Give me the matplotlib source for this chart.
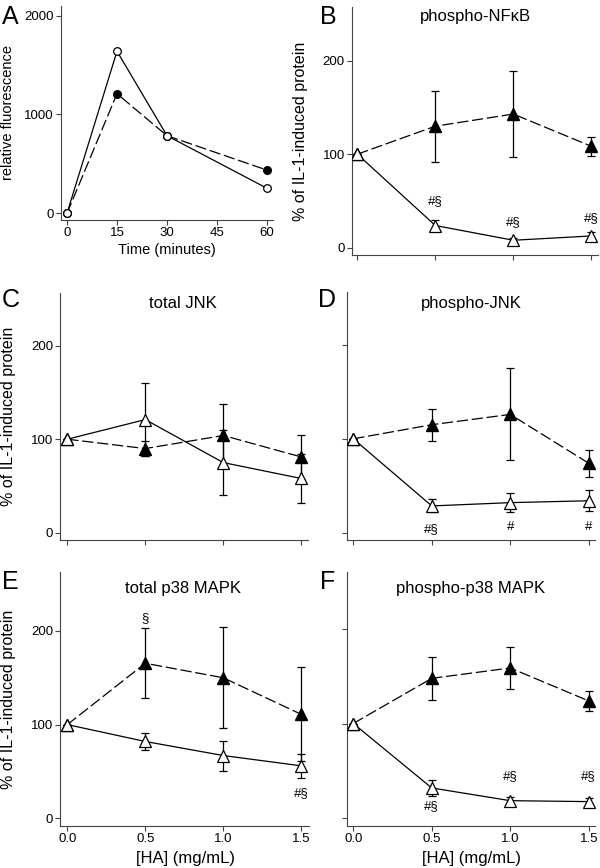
import matplotlib
matplotlib.use("Agg")
import matplotlib.pyplot as plt

plt.rcParams['font.family'] = ['Liberation Sans', 'DejaVu Sans']

# ---------------- data ----------------
time_min = [0, 15, 30, 60]
fluor_open = [0, 1640, 785, 253]
fluor_filled = [0, 1210, 785, 437]

ha = [0.0, 0.5, 1.0, 1.5]
ha_ticklabels = ["0.0", "0.5", "1.0", "1.5"]

nfkb_filled = [100, 130, 143, 108.5]
nfkb_filled_err = [0, 38, 46, 10]
nfkb_open = [100, 23.6, 7.8, 12.4]
nfkb_open_err = [0, 6, 2, 4]

tjnk_filled = [100, 90, 104, 81]
tjnk_filled_err = [0, 8, 34, 24]
tjnk_open = [100, 121, 75, 58]
tjnk_open_err = [0, 39, 35, 26]

pjnk_filled = [100, 115, 126, 74]
pjnk_filled_err = [0, 17, 49, 14.5]
pjnk_open = [100, 28.5, 32, 34]
pjnk_open_err = [0, 7, 10, 11]

tp38_filled = [100, 165.5, 150, 111]
tp38_filled_err = [0, 37.5, 54, 50]
tp38_open = [100, 82, 67, 56]
tp38_open_err = [0, 9.5, 16, 12.5]

pp38_filled = [100, 148, 159, 124]
pp38_filled_err = [0, 22.5, 22.5, 11]
pp38_open = [100, 31.5, 18, 17]
pp38_open_err = [0, 8.5, 4, 3.5]

ann_B = [(0.5, 50, "#§"), (1.0, 27.5, "#§"), (1.5, 32, "#§")]
ann_D = [(0.5, 3.6, "#§"), (1.0, 5.7, "#"), (1.5, 5.7, "#")]
ann_E = [(0.5, 214, "§"), (1.5, 26.7, "#§")]
ann_F = [(0.5, 12, "#§"), (1.0, 44, "#§"), (1.5, 44, "#§")]

# ---------------- figure ----------------
W, H = 600, 868
fig = plt.figure(figsize=(W / 100, H / 100), dpi=100)

SPINE = "#444444"
TICKFS = 9.5


def px_axes(l, r, t, b):
    return fig.add_axes([l / W, 1 - b / H, (r - l) / W, (b - t) / H])


def style(ax):
    for s in ("top", "right"):
        ax.spines[s].set_visible(False)
    for s in ("left", "bottom"):
        ax.spines[s].set_color(SPINE)
        ax.spines[s].set_linewidth(0.8)
    ax.tick_params(direction="out", length=3.5, width=0.8, color=SPINE,
                   labelsize=TICKFS, pad=1.5)


def ftext(x, y, s, **kw):
    fig.text(x / W, 1 - y / H, s, **kw)


DASH = (0, (9, 3))


def draw_panel(ax, filled, ferr, opened, oerr, ann, ylabels, xlabels):
    ax.errorbar(ha, filled, yerr=ferr, color="black", lw=0.9, ls=DASH,
                marker="^", ms=8.5, mfc="black", mec="black", ecolor="black",
                elinewidth=0.9, capsize=2.6, capthick=0.9, zorder=3)
    ax.errorbar(ha, opened, yerr=oerr, color="black", lw=0.9, ls="-",
                marker="^", ms=8.5, mfc="white", mec="black", mew=0.9,
                ecolor="black", elinewidth=0.9, capsize=2.6, capthick=0.9,
                zorder=4)
    for x, y, s in ann:
        ax.text(x, y, s, ha="center", va="center", fontsize=9.5)
    ax.set_xticks(ha)
    ax.set_yticks([0, 100, 200])
    if xlabels:
        ax.set_xticklabels(ha_ticklabels)
    else:
        ax.set_xticklabels([])
    if not ylabels:
        ax.set_yticklabels([])
    style(ax)


# Panel A
axA = px_axes(61, 273, 6, 220)
axA.plot(time_min, fluor_filled, color="black", lw=0.9, ls=DASH, marker="o",
         ms=5.5, mfc="black", mec="black", zorder=3)
axA.plot(time_min, fluor_open, color="black", lw=0.9, ls="-", marker="o",
         ms=5.5, mfc="white", mec="black", mew=0.9, zorder=4)
axA.set_xlim(-1.8, 61.8)
axA.set_ylim(-68, 2098)
axA.set_xticks([0, 15, 30, 45, 60])
axA.set_yticks([0, 1000, 2000])
style(axA)

# Panel B
axB = px_axes(351.7, 598, 6.7, 255)
draw_panel(axB, nfkb_filled, nfkb_filled_err, nfkb_open, nfkb_open_err,
           ann_B, True, False)
axB.set_xlim(-0.036, 1.543)
axB.set_ylim(-8, 258)

# Panel C
axC = px_axes(60, 308, 293, 540)
draw_panel(axC, tjnk_filled, tjnk_filled_err, tjnk_open, tjnk_open_err,
           [], True, False)
axC.set_xlim(-0.047, 1.543)
axC.set_ylim(-7.8, 256.4)

# Panel D
axD = px_axes(346.7, 595, 292, 540)
draw_panel(axD, pjnk_filled, pjnk_filled_err, pjnk_open, pjnk_open_err,
           ann_D, False, False)
axD.set_xlim(-0.042, 1.54)
axD.set_ylim(-7.8, 256.4)

# Panel E
axE = px_axes(60, 309, 572, 825.7)
draw_panel(axE, tp38_filled, tp38_filled_err, tp38_open, tp38_open_err,
           ann_E, True, True)
axE.set_xlim(-0.047, 1.55)
axE.set_ylim(-7.9, 262.9)

# Panel F
axF = px_axes(346.7, 595, 572, 825.7)
draw_panel(axF, pp38_filled, pp38_filled_err, pp38_open, pp38_open_err,
           ann_F, False, True)
axF.set_xlim(-0.042, 1.54)
axF.set_ylim(-8.6, 261)

# Titles
TFS = 12
ftext(475, 17, "phospho-NFκB", ha="center", va="center", fontsize=TFS)
ftext(183, 303, "total JNK", ha="center", va="center", fontsize=TFS)
ftext(471, 303, "phospho-JNK", ha="center", va="center", fontsize=TFS)
ftext(183, 589, "total p38 MAPK", ha="center", va="center", fontsize=TFS)
ftext(471, 589, "phospho-p38 MAPK", ha="center", va="center", fontsize=TFS)

# Panel letters
LFS = 18
for x, y, s in [(2, 5, "A"), (320, 5, "B"), (2, 288, "C"), (318, 288, "D"),
                (2, 570, "E"), (320, 570, "F")]:
    ftext(x, y, s, ha="left", va="top", fontsize=LFS)

# Axis labels
YL = "% of IL-1-induced protein"
YFS = 11.5
ftext(8, 113, "relative fluorescence", rotation=90, ha="center", va="center", fontsize=10.5)
ftext(300, 131, YL, rotation=90, ha="center", va="center", fontsize=YFS)
ftext(9, 416, YL, rotation=90, ha="center", va="center", fontsize=YFS)
ftext(9, 699, YL, rotation=90, ha="center", va="center", fontsize=YFS)
ftext(167, 250, "Time (minutes)", ha="center", va="center", fontsize=10.5)
ftext(185, 859, "[HA] (mg/mL)", ha="center", va="center", fontsize=TFS)
ftext(471, 859, "[HA] (mg/mL)", ha="center", va="center", fontsize=TFS)

fig.savefig("out.png", dpi=100)
